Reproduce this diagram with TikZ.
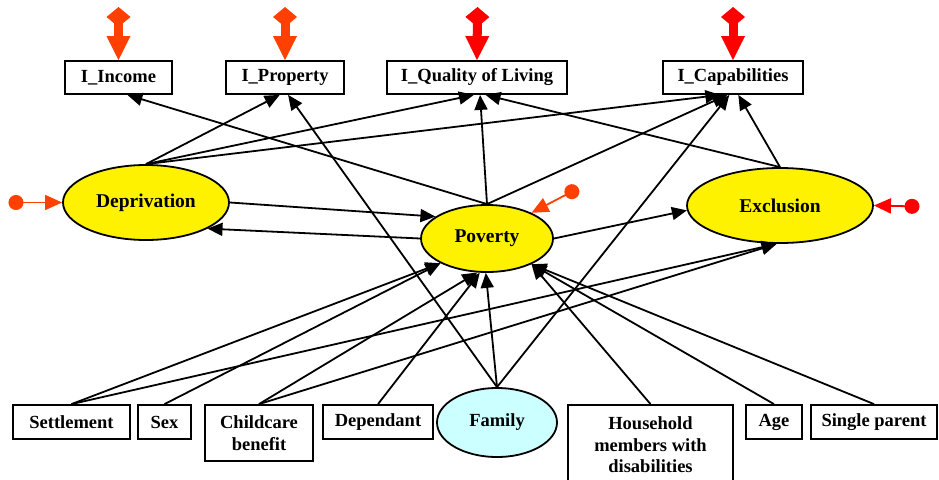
\documentclass[tikz,border=0pt]{standalone}
\usepackage{fontspec}
\setmainfont{Liberation Serif}
\usetikzlibrary{shapes.geometric,arrows.meta}
\definecolor{errorange}{RGB}{255,64,0}
\definecolor{errred}{RGB}{255,0,0}
\definecolor{famcyan}{RGB}{204,255,255}
\begin{document}
\begin{tikzpicture}[x=1pt,y=-1pt,
  box/.style={draw,line width=1.8pt,rectangle,fill=white,inner sep=0pt,align=center,font=\fontsize{18.5}{21.5}\selectfont\bfseries},
  lat/.style={draw,line width=1.8pt,ellipse,inner sep=0pt,fill=yellow,align=center,font=\fontsize{19.5}{22}\selectfont\bfseries},
  conn/.style={line width=1.8pt,-{Triangle[length=15pt,width=13pt]}},
  bigerr/.style={line width=9pt,{Diamond[length=20pt,width=24pt,line width=0pt]}-{Triangle[length=24pt,width=24pt,line width=0pt]}},
  smallerr/.style={line width=1.8pt,{Circle[length=15pt]}-{Triangle[length=17pt,width=15pt]}}
]
\clip (0,0) rectangle (939,479);
% top indicator boxes
\node[box,minimum width=107pt,minimum height=33pt] (inc) at (118.5,77.5) {I\_Income};
\node[box,minimum width=118pt,minimum height=33pt] (prop) at (285,77.5) {I\_Property};
\node[box,minimum width=180pt,minimum height=33pt] (qol) at (477,77.5) {I\_Quality of Living};
\node[box,minimum width=140pt,minimum height=33pt] (cap) at (733,77.5) {I\_Capabilities};
% latent variables
\node[lat,minimum width=166pt,minimum height=75pt] (depr) at (146,202.5) {Deprivation};
\node[lat,minimum width=132pt,minimum height=67pt] (pov) at (487,238.5) {Poverty};
\node[lat,minimum width=186pt,minimum height=75pt] (exc) at (780,205.5) {Exclusion};
\node[lat,fill=famcyan,minimum width=120pt,minimum height=69pt,font=\fontsize{18.5}{21.5}\selectfont\bfseries] (fam) at (497,422.5) {Family};
% bottom boxes
\node[box,minimum width=117pt,minimum height=34pt] (sett) at (71.5,422) {Settlement};
\node[box,minimum width=53pt,minimum height=34pt] (sex) at (164.5,422) {Sex};
\node[box,minimum width=108pt,minimum height=56pt] (child) at (259,433) {Childcare\\benefit};
\node[box,minimum width=110pt,minimum height=34pt] (dpd) at (378,422) {Dependant};
\node[box,minimum width=165pt,minimum height=80pt] (hh) at (650.5,445) {Household\\members with\\disabilities};
\node[box,minimum width=56pt,minimum height=34pt] (age) at (774,422) {Age};
\node[box,minimum width=126pt,minimum height=34pt] (sp) at (874,422) {Single parent};
% error terms
\coordinate (einc) at (118.5,7);
\coordinate (eprop) at (285,7);
\coordinate (eqol) at (477.5,7);
\coordinate (ecap) at (733,7);
\coordinate (edepr) at (8.5,202.5);
\coordinate (epov) at (578.5,188.2);
\coordinate (eexc) at (919.5,206.5);
\draw[bigerr,errorange] (einc) -- (inc.north);
\draw[bigerr,errorange] (eprop) -- (prop.north);
\draw[bigerr,errred] (eqol) -- (qol.north);
\draw[bigerr,errred] (ecap) -- (cap.north);
\draw[smallerr,errorange] (edepr) -- (depr.west);
\draw[smallerr,errorange] (epov) -- (pov.30);
\draw[smallerr,errred] (eexc) -- (exc.east);
% structural paths
\draw[conn] (depr.north) -- (prop.-107);
\draw[conn] (depr.north) -- (qol.-100);
\draw[conn] (depr.north) -- (cap.-126);
\draw[conn] (pov.north) -- (inc.-63);
\draw[conn] (pov.north) -- (qol.-80);
\draw[conn] (pov.north) -- (cap.-108);
\draw[conn] (fam.north) -- (prop.-80);
\draw[conn] (fam.north) -- (pov.-92);
\draw[conn] (fam.north) -- (cap.-102);
\draw[conn] (exc.north) -- (qol.-64);
\draw[conn] (exc.north) -- (cap.-73);
\draw[conn] (depr.east) -- (pov.157);
\draw[conn] (pov.west) -- (depr.-23);
\draw[conn] (pov.east) -- (exc.183);
\draw[conn] (sett.north) -- (pov.-152);
\draw[conn] (sett.north) -- (exc.-95);
\draw[conn] (sex.north) -- (pov.-152);
\draw[conn] (child.north) -- (pov.-106);
\draw[conn] (child.north) -- (exc.-95);
\draw[conn] (dpd.north) -- (pov.-102);
\draw[conn] (hh.north) -- (pov.-30);
\draw[conn] (age.north) -- (pov.-30);
\draw[conn] (sp.north) -- (pov.-30);
\end{tikzpicture}
\end{document}
